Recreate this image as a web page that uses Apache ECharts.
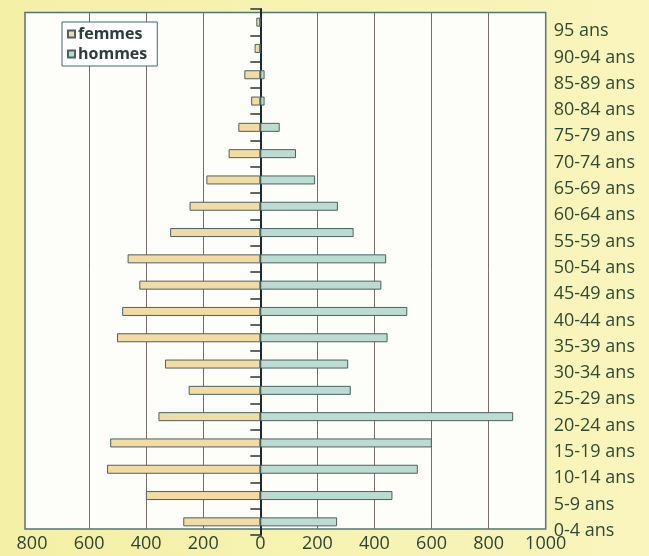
<!DOCTYPE html>
<html>
<head>
<meta charset="utf-8">
<script src="https://cdn.jsdelivr.net/npm/echarts@6/dist/echarts.min.js"></script>
<style>
html,body{margin:0;padding:0;background:#f6f2b4;}
#c{width:649px;height:556px;}
</style>
</head>
<body>
<div id="c"></div>
<script>
const categories = ['95 ans','90-94 ans','85-89 ans','80-84 ans','75-79 ans','70-74 ans','65-69 ans','60-64 ans','55-59 ans','50-54 ans','45-49 ans','40-44 ans','35-39 ans','30-34 ans','25-29 ans','20-24 ans','15-19 ans','10-14 ans','5-9 ans','0-4 ans'];
const femmes = [14, 20, 56, 32, 77, 111, 189, 248, 316, 465, 424, 484, 502, 334, 251, 357, 526, 537, 401, 270];
const hommes = [0, 0, 15, 15, 68, 125, 192, 272, 327, 441, 424, 515, 446, 308, 317, 886, 601, 552, 463, 269];
const xTicks = [-800, 1000, 200];

const chart = echarts.init(document.getElementById('c'));
const L = 32, W = 513.7;
chart.setOption({
  backgroundColor: {
    type: 'linear', x: 0, y: 0, x2: 1, y2: 0,
    colorStops: [{offset: 0, color: '#f4f0a6'}, {offset: 1, color: '#f9f5bd'}]
  },
  animation: false,
  graphic: [{
    type: 'rect', z: -10,
    shape: {x: 25, y: 12.5, width: 520.7, height: 516.5},
    style: {fill: '#fdfdfa', stroke: '#4f7676', lineWidth: 1.5}
  }],
  legend: {
    orient: 'vertical', left: 62, top: 22,
    data: ['femmes', 'hommes'],
    backgroundColor: '#ffffff', borderColor: '#3f6a6a', borderWidth: 1,
    padding: [4, 10, 4, 5], itemGap: 4,
    itemWidth: 7, itemHeight: 7, icon: 'rect',
    textStyle: {fontFamily: 'Open Sans', fontWeight: 'bold', fontSize: 16, color: '#2f3c3c', padding: [0, 0, 0, -2]}
  },
  grid: [
    {left: L, width: W, top: 9, height: 526},
    {left: L, width: W, top: 12.5, height: 516.5}
  ],
  xAxis: [
    {gridIndex: 0, type: 'value', min: xTicks[0], max: xTicks[1], interval: xTicks[2],
     axisLine: {show: false}, axisTick: {show: false}, axisLabel: {show: false}, splitLine: {show: false}},
    {gridIndex: 1, type: 'value', min: xTicks[0], max: xTicks[1], interval: xTicks[2],
     axisLine: {show: false}, axisTick: {show: false},
     splitLine: {show: true, showMinLine: false, lineStyle: {color: '#7a6a68', width: 1}},
     axisLabel: {margin: 6, fontFamily: 'Open Sans', fontSize: 18, color: '#2c4436',
       formatter: v => String(Math.abs(v))}}
  ],
  yAxis: [
    {gridIndex: 0, type: 'category', data: categories, inverse: true,
     axisLine: {onZero: true, lineStyle: {color: '#1f2b2b', width: 2}},
     axisTick: {show: true, length: 10, interval: 0, lineStyle: {color: '#2a3636', width: 1.5}},
     axisLabel: {show: false}, splitLine: {show: false}},
    {gridIndex: 0, type: 'category', data: categories, inverse: true, position: 'right',
     axisLine: {show: false}, axisTick: {show: false},
     axisLabel: {margin: 8, interval: 0, verticalAlign: 'top', lineHeight: 18, fontFamily: 'Open Sans', fontSize: 18, color: '#2c4a36'}},
    {gridIndex: 1, type: 'category', data: categories, show: false}
  ],
  series: [
    {name: 'femmes', type: 'bar', xAxisIndex: 0, yAxisIndex: 0,
     data: femmes.map(v => -v), barWidth: 9, barGap: '-100%',
     itemStyle: {color: '#f3dca4', borderColor: '#4a6262', borderWidth: 1}},
    {name: 'hommes', type: 'bar', xAxisIndex: 0, yAxisIndex: 0,
     data: hommes, barWidth: 9, barGap: '-100%',
     itemStyle: {color: '#bcdcd2', borderColor: '#4a6262', borderWidth: 1}}
  ]
});
</script>
</body>
</html>
